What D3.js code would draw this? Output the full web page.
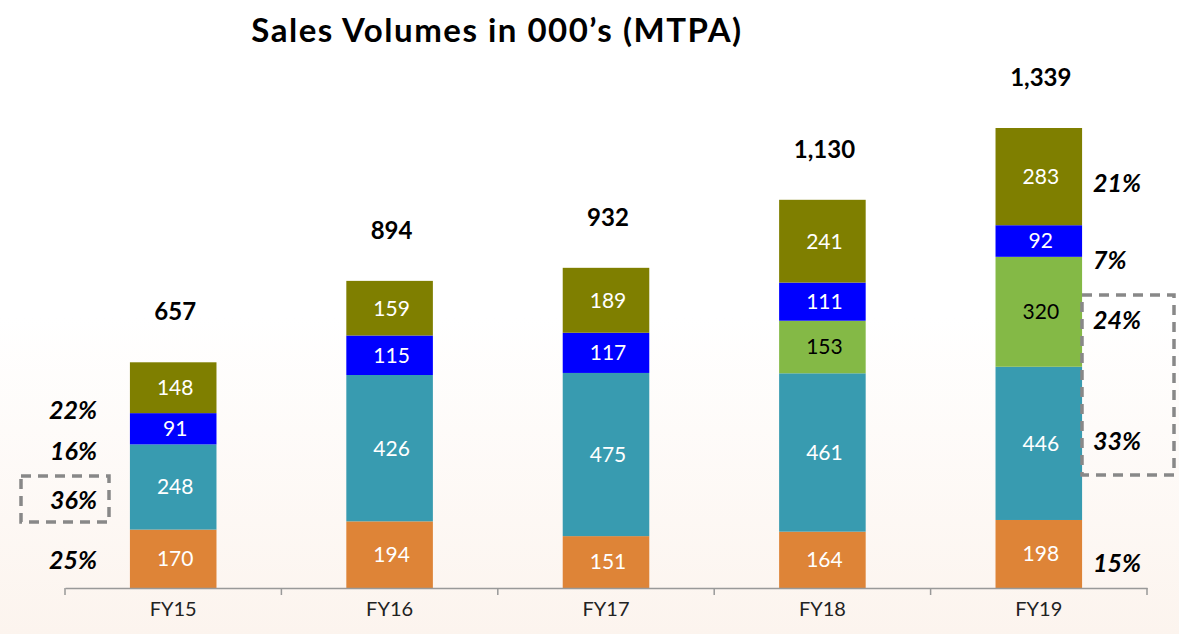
<!DOCTYPE html>
<html>
<head>
    <meta charset="utf-8">
    <title>Sales Volumes</title>
    <script src="https://d3js.org/d3.v7.min.js"></script>
    <style>
        body { margin: 0; }
        text { font-family: Lato, "Open Sans", sans-serif; }
    </style>
</head>
<body>
    <script>
        // data
        var years = ["FY15", "FY16", "FY17", "FY18", "FY19"];
        var seriesNames = ["s1", "s2", "s3", "s4", "s5"];
        var s1 = [170, 194, 151, 164, 198];
        var s2 = [248, 426, 475, 461, 446];
        var s3 = [0, 0, 0, 153, 320];
        var s4 = [91, 115, 117, 111, 92];
        var s5 = [148, 159, 189, 241, 283];
        var totals = [657, 894, 932, 1130, 1339];
        var leftPct = ["25%", "36%", "16%", "22%"];         // FY15 shares (s1, s2, s4, s5)
        var rightPct = ["15%", "33%", "24%", "7%", "21%"];  // FY19 shares (s1..s5)

        var colors = ["#DE8437", "#389BB0", "#84B946", "#0000FF", "#7F7F00"];
        var labelColors = ["#fff", "#fff", "#000", "#fff", "#fff"];

        var W = 1179, H = 634;
        var svg = d3.select("body").append("svg")
            .attr("width", W)
            .attr("height", H);

        var grad = svg.append("defs").append("linearGradient")
            .attr("id", "bg").attr("x1", 0).attr("y1", 0).attr("x2", 0).attr("y2", 1);
        grad.append("stop").attr("offset", "0%").attr("stop-color", "#ffffff");
        grad.append("stop").attr("offset", "50%").attr("stop-color", "#ffffff");
        grad.append("stop").attr("offset", "100%").attr("stop-color", "#fcf4ee");
        svg.append("rect").attr("width", W).attr("height", H).attr("fill", "url(#bg)");

        var rows = years.map(function (y, i) {
            return { year: y, s1: s1[i], s2: s2[i], s3: s3[i], s4: s4[i], s5: s5[i] };
        });

        var x = d3.scaleBand().domain(years).range([65, 1147]).paddingInner(0.6).paddingOuter(0.3);
        var baseY = 588;
        var y = d3.scaleLinear().domain([0, 1339]).range([baseY, 128]);

        var stack = d3.stack().keys(seriesNames)(rows);

        var layer = svg.selectAll(".layer")
            .data(stack)
            .enter().append("g")
            .attr("fill", (d, i) => colors[i]);

        layer.selectAll("rect")
            .data(d => d)
            .enter().append("rect")
            .attr("x", d => x(d.data.year))
            .attr("width", x.bandwidth())
            .attr("y", d => y(d[1]))
            .attr("height", d => y(d[0]) - y(d[1]));

        layer.each(function (L, i) {
            d3.select(this).selectAll("text")
                .data(L.filter(d => d[1] - d[0] > 0))
                .enter().append("text")
                .attr("x", d => x(d.data.year) + x.bandwidth() / 2 + 2)
                .attr("y", d => (y(d[0]) + y(d[1])) / 2)
                .attr("dy", "0.35em")
                .attr("text-anchor", "middle")
                .attr("fill", labelColors[i])
                .style("font-size", "21px")
                .text(d => d[1] - d[0]);
        });

        // totals
        svg.selectAll(".total")
            .data(years)
            .enter().append("text")
            .attr("x", d => x(d) + x.bandwidth() / 2 + 2)
            .attr("y", (d, i) => y(totals[i]) - 42)
            .attr("text-anchor", "middle")
            .style("font-size", "24px")
            .style("font-weight", "bold")
            .text((d, i) => d3.format(",")(totals[i]));

        // axis
        var xAxis = d3.axisBottom(x).tickSize(0).tickPadding(14);
        var ax = svg.append("g").attr("transform", "translate(0," + baseY + ")").call(xAxis);
        ax.select(".domain").attr("stroke", "#999").attr("stroke-width", 1.5);
        ax.selectAll("text").style("font-size", "20px").attr("fill", "#222")
            .style("font-family", "Lato, sans-serif");
        var edges = d3.range(years.length + 1).map(i => 65 + i * x.step());
        ax.selectAll(".sep").data(edges).enter().append("line")
            .attr("x1", d => d).attr("x2", d => d)
            .attr("y1", 0).attr("y2", 7)
            .attr("stroke", "#999").attr("stroke-width", 1.5);

        var pctStyle = function (sel) {
            sel.style("font-size", "25px")
                .style("font-weight", "bold")
                .style("font-style", "italic")
                .attr("dy", "0.35em");
        };

        // FY15 shares on the left
        var leftY = [560, 500, 451, 410];
        svg.selectAll(".lp")
            .data(leftPct)
            .enter().append("text")
            .attr("x", 97)
            .attr("y", (d, i) => leftY[i])
            .attr("text-anchor", "end")
            .call(pctStyle)
            .text(d => d);

        // FY19 shares on the right
        var rightY = [563, 441, 320, 260, 183];
        svg.selectAll(".rp")
            .data(rightPct)
            .enter().append("text")
            .attr("x", 1093)
            .attr("y", (d, i) => rightY[i])
            .call(pctStyle)
            .text(d => d);

        // dashed boxes
        svg.append("rect")
            .attr("x", 21).attr("y", 476).attr("width", 88).attr("height", 46)
            .attr("fill", "none").attr("stroke", "#888").attr("stroke-width", 3.5)
            .attr("stroke-dasharray", "10,7");
        svg.append("rect")
            .attr("x", 1082).attr("y", 295).attr("width", 92).attr("height", 180)
            .attr("fill", "none").attr("stroke", "#888").attr("stroke-width", 3.5)
            .attr("stroke-dasharray", "10,7");

        // title
        svg.append("text")
            .attr("x", 497)
            .attr("y", 42)
            .attr("text-anchor", "middle")
            .style("font-size", "33px")
            .style("font-weight", "bold")
            .style("letter-spacing", "1.5px")
            .text("Sales Volumes in 000\u2019s (MTPA)");
    </script>
</body>
</html>
